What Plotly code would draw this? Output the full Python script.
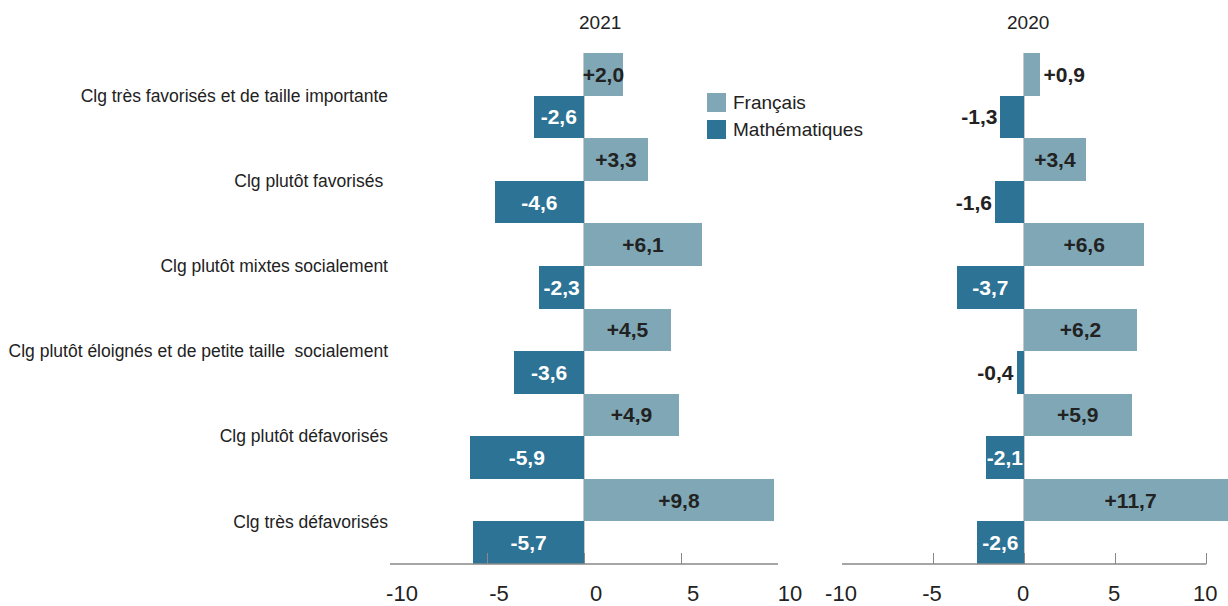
import plotly.graph_objects as go

categories = [
    "Clg très favorisés et de taille importante",
    "Clg plutôt favorisés ",
    "Clg plutôt mixtes socialement",
    "Clg plutôt éloignés et de petite taille  socialement",
    "Clg plutôt défavorisés",
    "Clg très défavorisés",
]
fr_2021 = [2.0, 3.3, 6.1, 4.5, 4.9, 9.8]
math_2021 = [-2.6, -4.6, -2.3, -3.6, -5.9, -5.7]
fr_2020 = [0.9, 3.4, 6.6, 6.2, 5.9, 11.7]
math_2020 = [-1.3, -1.6, -3.7, -0.4, -2.1, -2.6]
years = ["2021", "2020"]
series_names = ["Français", "Mathématiques"]
x_ticks = [-10, -5, 0, 5, 10]

C_FR = "#7FA7B5"
C_MATH = "#2C7395"
DARK = "#222222"
W, H = 1228, 606
MT, MB = 53, 606 - 564
PH = H - MT - MB

REG = "Liberation Sans, Arial, sans-serif"


def fmt(v):
    return f"{v:+.1f}".replace(".", ",")


def positions(vals):
    return ["inside" if abs(v) >= 2 else "outside" for v in vals]


def fx(px):
    return px / W


def fy(px):
    return (H - MB - px) / PH


fig = go.Figure()
panels = [("x", "y", fr_2021, math_2021), ("x2", "y2", fr_2020, math_2020)]
for xa, ya, fr, ma in panels:
    for name, vals, col, incol in [
        (series_names[0], fr, C_FR, DARK),
        (series_names[1], ma, C_MATH, "white"),
    ]:
        fig.add_trace(go.Bar(
            y=categories, x=vals, orientation="h", name=name,
            marker=dict(color=col, line=dict(width=0)),
            text=[fmt(v) for v in vals],
            textposition=positions(vals),
            insidetextanchor="middle",
            textangle=0,
            constraintext="none",
            insidetextfont=dict(family=REG, size=21, color=incol, weight="bold"),
            outsidetextfont=dict(family=REG, size=21, color=DARK, weight="bold"),
            cliponaxis=True,
            showlegend=False,
            xaxis=xa, yaxis=ya,
        ))

xcommon = dict(
    tickvals=x_ticks,
    ticktext=[str(t) for t in x_ticks],
    ticks="inside", ticklen=11, tickcolor="#888888", tickwidth=1,
    tickfont=dict(family=REG, size=22, color=DARK),
    ticklabelstandoff=14,
    ticklabeloverflow="allow",
    showgrid=False,
    zeroline=True, zerolinecolor="#c8c8c8", zerolinewidth=2,
    showline=False,
    automargin=False,
    fixedrange=True,
)
x1_dom = [fx(390), fx(778)]
x2_dom = [fx(842), 1.0]

fig.update_layout(
    width=W, height=H,
    margin=dict(l=0, r=0, t=MT, b=MB, autoexpand=False),
    paper_bgcolor="white", plot_bgcolor="white",
    barmode="group", bargap=0, bargroupgap=0,
    xaxis=dict(domain=x1_dom, range=[-10, 10], anchor="y", ticklabelshift=12, **xcommon),
    xaxis2=dict(domain=x2_dom, range=[-10, 11.2], anchor="y2", ticklabelshift=-1, **xcommon),
    yaxis=dict(
        autorange=False, range=[5.5, -0.5], anchor="x",
        tickfont=dict(family=REG, size=17.5, color=DARK),
        ticks="", showgrid=False, zeroline=False, showline=False,
        ticklabelstandoff=1, automargin=False,
    ),
    yaxis2=dict(
        autorange=False, range=[5.5, -0.5], anchor="x2", matches="y",
        showticklabels=False, ticks="", showgrid=False, zeroline=False, showline=False,
        automargin=False,
    ),
    showlegend=False,
)

# axis baselines from -10 to 10
for xr, yr in [("x", "y domain"), ("x2", "y2 domain")]:
    fig.add_shape(type="line", xref=xr, yref=yr, x0=x_ticks[0], x1=x_ticks[-1], y0=0, y1=0,
                  line=dict(color="#888888", width=1.5))

# panel titles
for yr_label, xc in zip(years, [600, 1028]):
    fig.add_annotation(text=yr_label, xref="paper", yref="paper", x=fx(xc), y=fy(23),
                       xanchor="center", yanchor="middle", showarrow=False,
                       font=dict(family=REG, size=19, color=DARK))

# manual legend
for name, col, y0, y1 in [(series_names[0], C_FR, 93, 112), (series_names[1], C_MATH, 120, 139)]:
    fig.add_shape(type="rect", xref="paper", yref="paper",
                  x0=fx(707), x1=fx(726), y0=fy(y1), y1=fy(y0),
                  fillcolor=col, line=dict(width=0))
    fig.add_annotation(text=name, xref="paper", yref="paper", x=fx(731), y=fy((y0 + y1) / 2),
                       xanchor="left", yanchor="middle", showarrow=False,
                       font=dict(family=REG, size=19, color=DARK))

fig.write_html(
    "out.html",
    config={"displayModeBar": False, "staticPlot": True},
    post_script="document.body.style.margin='0';document.body.style.overflow='hidden';",
)
